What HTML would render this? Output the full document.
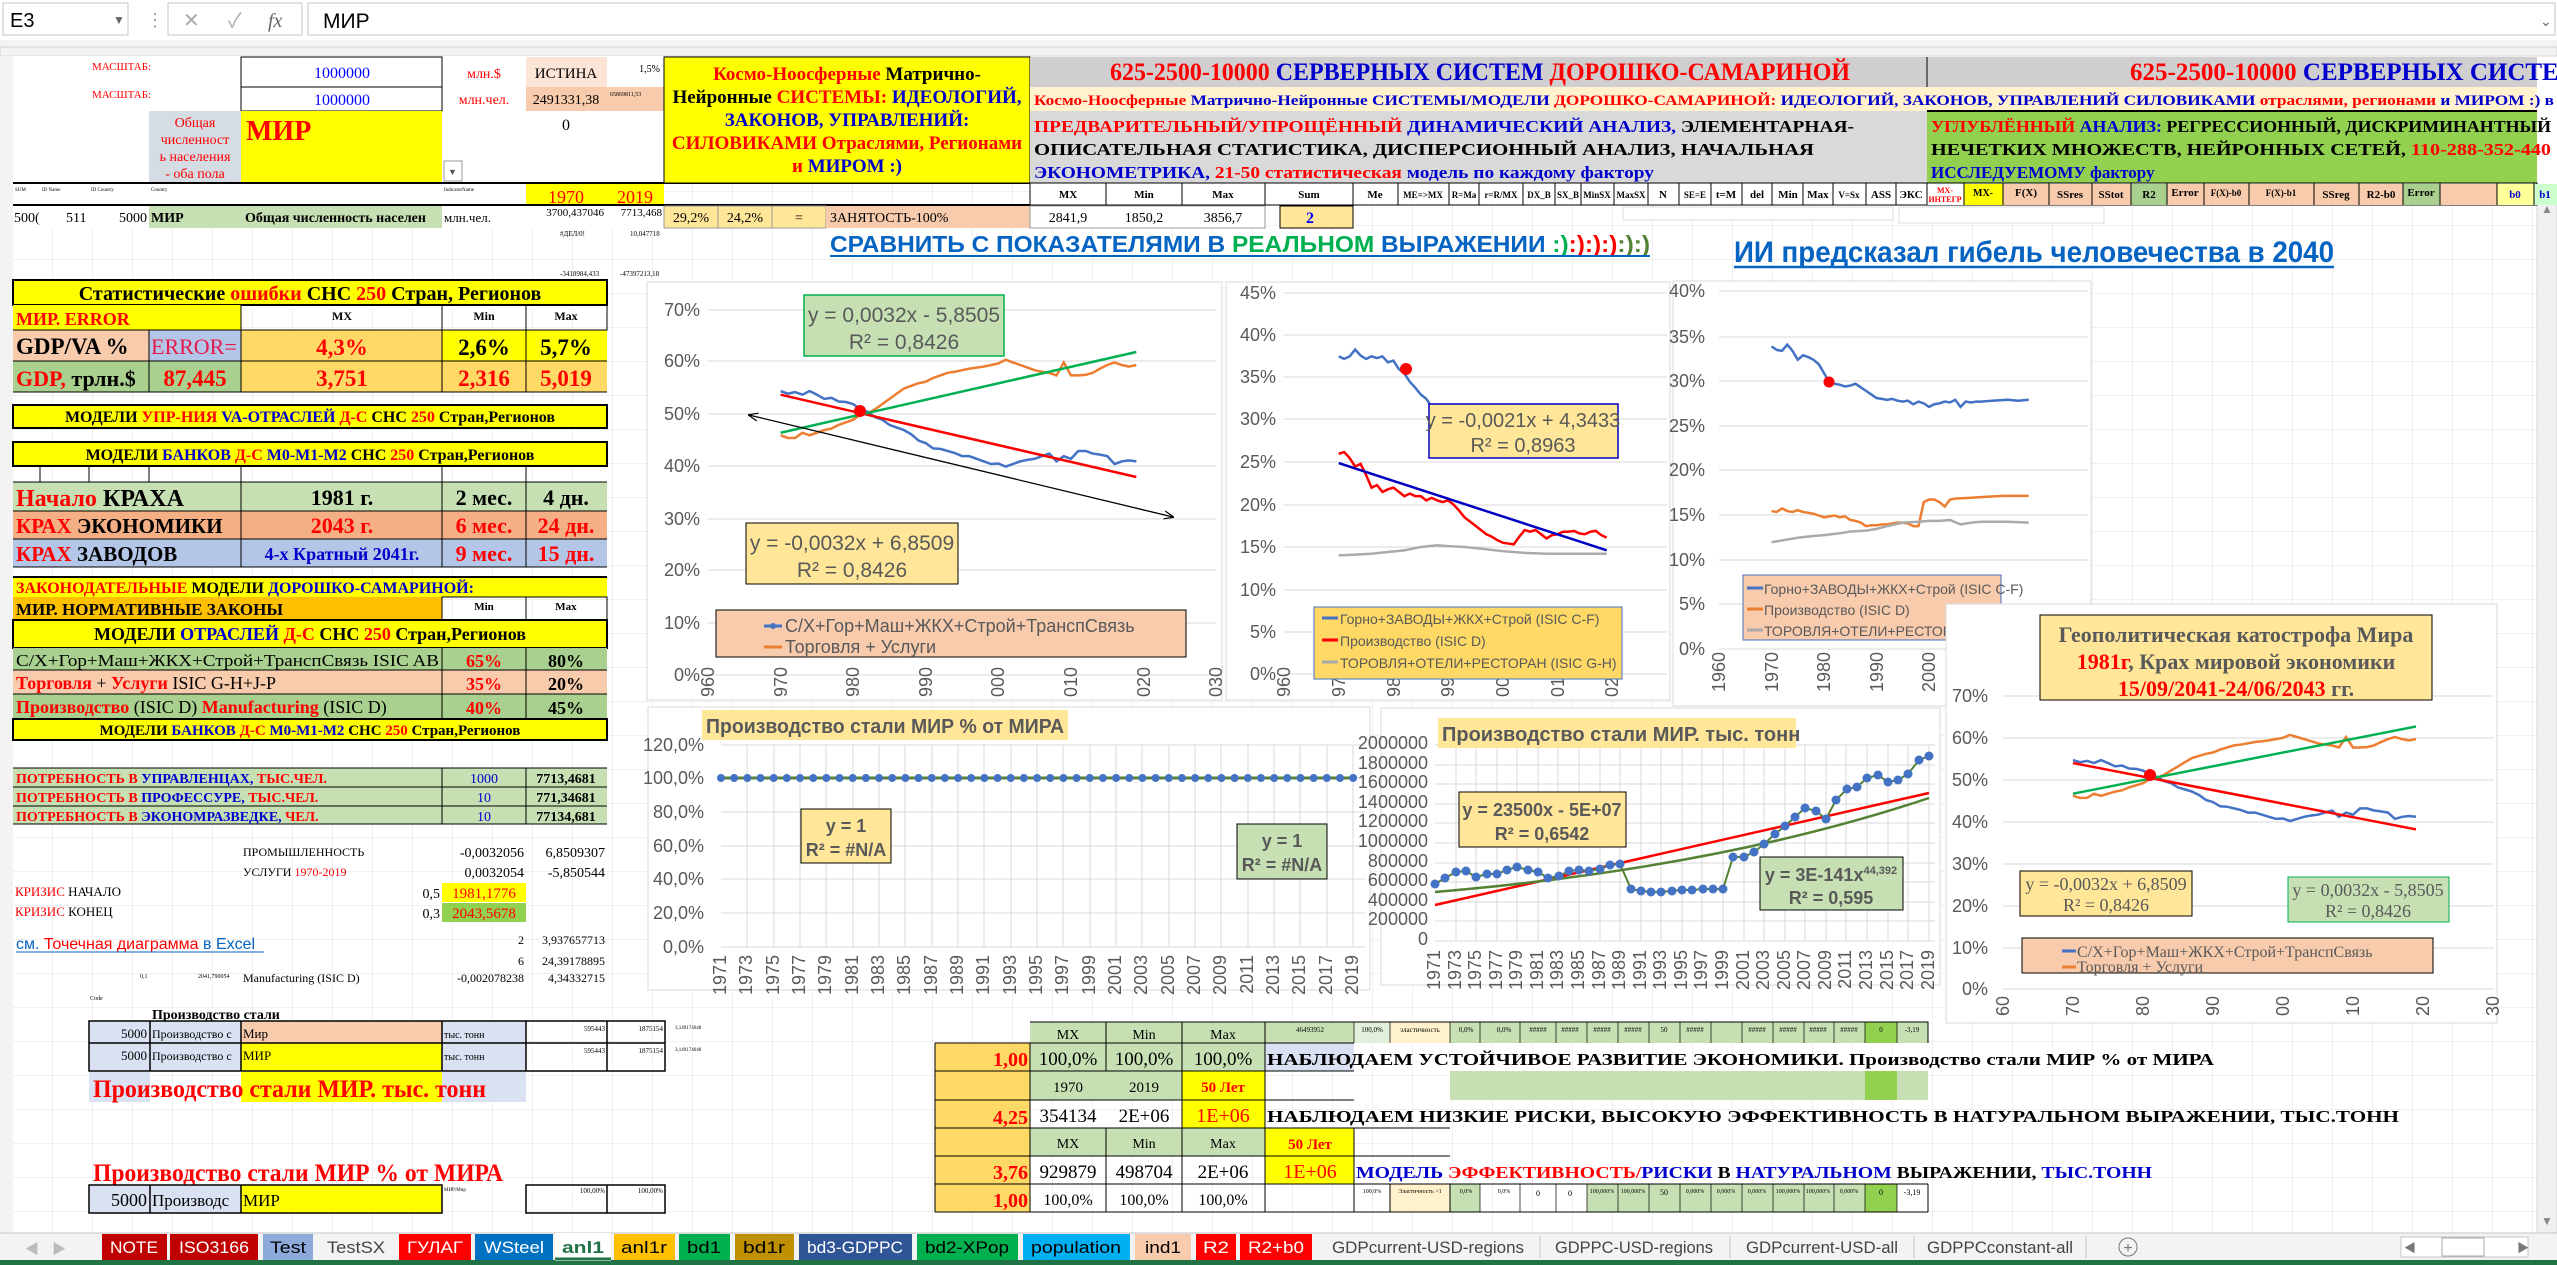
<!DOCTYPE html>
<html><head><meta charset="utf-8"><style>
html,body{margin:0;padding:0;background:#fff;width:2557px;height:1265px;overflow:hidden}
svg{display:block}
.s{font-family:"Liberation Serif","Noto Serif CJK SC",serif}
.a{font-family:"Liberation Sans","Noto Sans CJK SC",sans-serif}
.b{font-weight:bold}
.gl{stroke:#d9d9d9;stroke-width:1}
.ax{font-family:"Liberation Sans",sans-serif;fill:#595959;font-size:18px}
.bd{stroke:#000;stroke-width:1;fill:none}
</style></head><body>
<svg width="2557" height="1265" viewBox="0 0 2557 1265" xmlns="http://www.w3.org/2000/svg">
<defs>
<pattern id="grid" x="13" y="56" width="40" height="34" patternUnits="userSpaceOnUse"><path d="M40 0V34M0 34H40" stroke="#e2e2e2" stroke-width="1" fill="none"/></pattern>
<marker id="dot" viewBox="0 0 10 10" refX="5" refY="5" markerWidth="10" markerHeight="10" markerUnits="userSpaceOnUse"><circle cx="5" cy="5" r="4.5" fill="#4472c4"/></marker>
<marker id="arr" viewBox="0 0 10 10" refX="9" refY="5" markerWidth="10" markerHeight="10" orient="auto-start-reverse" markerUnits="userSpaceOnUse"><path d="M0,1L10,5L0,9" fill="none" stroke="#000" stroke-width="1.2"/></marker>
</defs>
<rect width="2557" height="1265" fill="#fff"/>
<rect x="13" y="56" width="2524" height="1177" fill="url(#grid)"/>

<!-- formula bar -->
<rect x="0" y="0" width="2557" height="40" fill="#fff"/>
<rect x="3" y="3" width="125" height="32" fill="#fff" stroke="#c6c6c6"/>
<text x="10" y="27" class="a" font-size="20">E3</text><text x="113" y="24" class="a" font-size="12" fill="#666">▼</text>
<text x="146" y="26" class="a" font-size="18" fill="#999">⋮</text>
<rect x="168" y="3" width="134" height="32" fill="#fff" stroke="#c6c6c6"/>
<text x="183" y="27" class="a" font-size="20" fill="#aaa">✕</text><text x="228" y="27" class="a" font-size="20" fill="#aaa">✓</text><text x="268" y="27" class="s" font-size="20" font-style="italic" fill="#666">fx</text>
<rect x="308" y="3" width="2247" height="32" fill="#fff" stroke="#c6c6c6"/>
<text x="323" y="28" class="a" font-size="21">МИР</text>
<text x="2540" y="26" class="a" font-size="14" fill="#666">⌄</text>
<rect x="0" y="40" width="2557" height="8" fill="#f3f3f3"/>
<rect x="0" y="47" width="2557" height="9" fill="#f3f3f3" stroke="#d4d4d4"/>
<rect x="0" y="56" width="13" height="1177" fill="#f3f3f3"/>
<rect x="2537" y="195" width="20" height="1038" fill="#f0f0f0" stroke="#d4d4d4"/>
<text x="2541" y="213" class="a" font-size="12" fill="#888">▲</text><text x="2541" y="1225" class="a" font-size="12" fill="#888">▼</text>

<!-- top block -->
<g class="s">
<rect x="13" y="56" width="651" height="172" fill="#fff"/>
<text x="92" y="70" font-size="11" fill="#f00">МАСШТАБ:</text>
<text x="92" y="98" font-size="11" fill="#f00">МАСШТАБ:</text>
<rect x="241" y="57" width="201" height="30" fill="#fff2cc" class="bd"/><text x="342" y="78" font-size="16" fill="#00f" text-anchor="middle">1000000</text>
<rect x="241" y="87" width="201" height="24" fill="#fff2cc" class="bd"/><text x="342" y="105" font-size="16" fill="#00f" text-anchor="middle">1000000</text>
<text x="484" y="78" font-size="14" fill="#f00" text-anchor="middle">млн.$</text>
<text x="484" y="104" font-size="14" fill="#f00" text-anchor="middle">млн.чел.</text>
<rect x="526" y="57" width="81" height="30" fill="#fce4d6"/><text x="566" y="78" font-size="15" text-anchor="middle">ИСТИНА</text>
<rect x="526" y="87" width="81" height="24" fill="#f8cbad"/><text x="566" y="104" font-size="14" text-anchor="middle">2491331,38</text>
<rect x="607" y="87" width="57" height="24" fill="#f8cbad"/><text x="660" y="72" font-size="10" text-anchor="end">1,5%</text>
<text x="610" y="96" font-size="6">65869811,53</text>
<rect x="149" y="111" width="92" height="72" fill="#d6dce4"/>
<text x="195" y="127" font-size="14" fill="#f00" text-anchor="middle">Общая</text>
<text x="195" y="144" font-size="14" fill="#f00" text-anchor="middle">численност</text>
<text x="195" y="161" font-size="14" fill="#f00" text-anchor="middle">ь населения</text>
<text x="195" y="178" font-size="14" fill="#f00" text-anchor="middle">- оба пола</text>
<rect x="241" y="111" width="201" height="72" fill="#ffff00"/>
<text x="246" y="140" font-size="28" fill="#f00" class="b">МИР</text>
<rect x="444" y="161" width="18" height="20" fill="#fff" stroke="#999"/><text x="448" y="175" font-size="9" fill="#555">▼</text>
<text x="566" y="130" font-size="16" text-anchor="middle">0</text>
<line x1="13" y1="183" x2="1030" y2="183" stroke="#000" stroke-width="2"/>
<text x="15" y="191" font-size="5">SUM</text><text x="42" y="191" font-size="5">ID Name</text><text x="91" y="191" font-size="5">ID Country</text><text x="151" y="191" font-size="5">Country</text><text x="444" y="191" font-size="5">IndicatorName</text>
<rect x="526" y="184" width="81" height="21" fill="#ffff00"/><text x="566" y="203" font-size="18" fill="#f00" text-anchor="middle">1970</text>
<rect x="607" y="184" width="57" height="21" fill="#ffff00"/><text x="635" y="203" font-size="18" fill="#f00" text-anchor="middle">2019</text>
<line x1="13" y1="205" x2="1030" y2="205" stroke="#000" stroke-width="2"/>
<text x="14" y="222" font-size="14">500(</text><text x="66" y="222" font-size="14">511</text><text x="147" y="222" font-size="14" text-anchor="end">5000</text>
<rect x="149" y="206" width="293" height="22" fill="#c6e0b4"/>
<text x="151" y="222" font-size="14" class="b">МИР</text><text x="245" y="222" font-size="14" class="b">Общая численность населен</text>
<text x="444" y="222" font-size="13">млн.чел.</text>
<text x="604" y="216" font-size="11" text-anchor="end">3700,437046</text><text x="662" y="216" font-size="11" text-anchor="end">7713,468</text>
<text x="560" y="236" font-size="7">#ДЕЛ/0!</text><text x="630" y="236" font-size="7">10,047718</text>
<text x="560" y="276" font-size="7">-3418984,433</text><text x="620" y="276" font-size="7">-47397213,18</text>
</g>
<!-- yellow cosmo box -->
<g class="s b" font-size="19" text-anchor="middle">
<rect x="664" y="57" width="366" height="126" fill="#ffff00" stroke="#000"/>
<text x="847" y="80"><tspan fill="#f00">Космо-Ноосферные</tspan> Матрично-</text>
<text x="847" y="103">Нейронные <tspan fill="#f00">СИСТЕМЫ:</tspan> <tspan fill="#00c">ИДЕОЛОГИЙ,</tspan></text>
<text x="847" y="126" fill="#00c">ЗАКОНОВ, УПРАВЛЕНИЙ:</text>
<text x="847" y="149" fill="#f00">СИЛОВИКАМИ Отраслями, Регионами</text>
<text x="847" y="172" fill="#f00">и <tspan fill="#00c">МИРОМ :)</tspan></text>
</g>
<!-- row 28 right cells -->
<g class="s" font-size="14" text-anchor="middle">
<rect x="664" y="206" width="54" height="22" fill="#ffe699" stroke="#999"/><text x="691" y="222">29,2%</text>
<rect x="718" y="206" width="54" height="22" fill="#ffe699" stroke="#999"/><text x="745" y="222">24,2%</text>
<rect x="772" y="206" width="54" height="22" fill="#ffe699" stroke="#999"/><text x="799" y="222">=</text>
<rect x="826" y="206" width="204" height="22" fill="#f8cbad"/><text x="830" y="222" text-anchor="start">ЗАНЯТОСТЬ-100%</text>
<rect x="1030" y="206" width="235" height="22" fill="#fff" stroke="#999"/>
<text x="1068" y="222">2841,9</text><text x="1144" y="222">1850,2</text><text x="1223" y="222">3856,7</text>
<rect x="1280" y="206" width="73" height="22" fill="#ffe699" stroke="#000"/><text x="1310" y="223" fill="#00f" class="b" font-size="16">2</text>
</g>
<!-- big header rows -->
<g class="s b">
<rect x="1030" y="57" width="1507" height="30" fill="#d0cece"/>
<line x1="1927" y1="57" x2="1927" y2="87" stroke="#000"/>
<text x="1110" y="80" font-size="25" textLength="740" lengthAdjust="spacingAndGlyphs"><tspan fill="#f00">625-2500-10000</tspan> <tspan fill="#00c">СЕРВЕРНЫХ СИСТЕМ</tspan> <tspan fill="#f00">ДОРОШКО-САМАРИНОЙ</tspan></text>
<text x="2130" y="80" font-size="25"><tspan fill="#f00">625-2500-10000</tspan> <tspan fill="#00c">СЕРВЕРНЫХ СИСТЕ</tspan></text>
<rect x="1030" y="87" width="1507" height="24" fill="#fff2cc"/>
<text x="1034" y="105" font-size="15" textLength="1520" lengthAdjust="spacingAndGlyphs"><tspan fill="#f00">Космо-Ноосферные</tspan> <tspan fill="#00c">Матрично-Нейронные СИСТЕМЫ/МОДЕЛИ</tspan> <tspan fill="#f00">ДОРОШКО-САМАРИНОЙ:</tspan> <tspan fill="#00c">ИДЕОЛОГИЙ, ЗАКОНОВ, УПРАВЛЕНИЙ СИЛОВИКАМИ</tspan> <tspan fill="#f00">отраслями, регионами</tspan> <tspan fill="#00c">и МИРОМ :) в</tspan></text>
<rect x="1030" y="111" width="897" height="72" fill="#d9d9d9"/>
<text x="1034" y="132" font-size="17" textLength="820" lengthAdjust="spacingAndGlyphs"><tspan fill="#f00">ПРЕДВАРИТЕЛЬНЫЙ/УПРОЩЁННЫЙ</tspan> <tspan fill="#00c">ДИНАМИЧЕСКИЙ АНАЛИЗ,</tspan> ЭЛЕМЕНТАРНАЯ-</text>
<text x="1034" y="155" font-size="17" textLength="780" lengthAdjust="spacingAndGlyphs">ОПИСАТЕЛЬНАЯ СТАТИСТИКА, ДИСПЕРСИОННЫЙ АНАЛИЗ, НАЧАЛЬНАЯ</text>
<text x="1034" y="178" font-size="17" textLength="620" lengthAdjust="spacingAndGlyphs"><tspan fill="#00c">ЭКОНОМЕТРИКА,</tspan> <tspan fill="#f00">21-50 статистическая</tspan> <tspan fill="#00c">модель по каждому фактору</tspan></text>
<rect x="1927" y="111" width="610" height="72" fill="#92d050"/>
<line x1="1927" y1="111" x2="2537" y2="111" stroke="#000" stroke-width="2"/>
<text x="1931" y="132" font-size="17" textLength="620" lengthAdjust="spacingAndGlyphs"><tspan fill="#f00">УГЛУБЛЁННЫЙ</tspan> <tspan fill="#00c">АНАЛИЗ:</tspan> РЕГРЕССИОННЫЙ, ДИСКРИМИНАНТНЫЙ</text>
<text x="1931" y="155" font-size="17" textLength="620" lengthAdjust="spacingAndGlyphs">НЕЧЕТКИХ МНОЖЕСТВ, НЕЙРОННЫХ СЕТЕЙ, <tspan fill="#f00">110-288-352-440</tspan></text>
<text x="1931" y="178" font-size="17" fill="#00c">ИССЛЕДУЕМОМУ фактору</text>
</g>
<!-- row4 header cells -->
<g class="s b" font-size="11" text-anchor="middle">
<rect x="1030" y="183" width="1507" height="22" fill="#fff" stroke="#000"/>
<rect x="1927" y="184" width="37" height="21" fill="#fff"/>
<rect x="1964" y="184" width="39" height="21" fill="#ffff00"/>
<rect x="2003" y="184" width="89" height="21" fill="#f8cbad"/>
<rect x="2092" y="184" width="39" height="21" fill="#f8cbad"/>
<rect x="2131" y="184" width="36" height="21" fill="#a9d08e"/>
<rect x="2167" y="184" width="192" height="21" fill="#f8cbad"/>
<rect x="2359" y="184" width="44" height="21" fill="#f8cbad"/>
<rect x="2403" y="184" width="37" height="21" fill="#a9d08e"/>
<rect x="2440" y="184" width="57" height="21" fill="#f8cbad"/>
<rect x="2497" y="184" width="37" height="21" fill="#ffff99"/>
<rect x="2534" y="184" width="23" height="21" fill="#ccffcc"/>
<g stroke="#000" stroke-width="1">
<path d="M1106 183V205M1182 183V205M1265 183V205M1353 183V205M1398 183V205M1449 183V205M1479 183V205M1523 183V205M1555 183V205M1581 183V205M1614 183V205M1648 183V205M1679 183V205M1711 183V205M1742 183V205M1772 183V205M1803 183V205M1833 183V205M1866 183V205M1896 183V205M1927 183V205M1964 183V205M2003 183V205M2049 183V205M2092 183V205M2131 183V205M2167 183V205M2204 183V205M2249 183V205M2314 183V205M2359 183V205M2403 183V205M2440 183V205M2497 183V205M2534 183V205"/>
</g>
<text x="1068" y="198">MX</text><text x="1144" y="198">Min</text><text x="1223" y="198">Max</text><text x="1309" y="198">Sum</text><text x="1375" y="198">Me</text><text x="1423" y="198" font-size="9">ME=&gt;MX</text><text x="1464" y="198" font-size="9">R=Ma</text><text x="1501" y="198" font-size="9">r=R/MX</text><text x="1539" y="198" font-size="9">DX_B</text><text x="1568" y="198" font-size="9">SX_B</text><text x="1597" y="198" font-size="9">MinSX</text><text x="1631" y="198" font-size="9">MaxSX</text><text x="1663" y="198">N</text><text x="1695" y="198" font-size="9">SE=E</text><text x="1726" y="198">t=M</text><text x="1757" y="198">del</text><text x="1788" y="198">Min</text><text x="1818" y="198">Max</text><text x="1849" y="198" font-size="9">V=Sx</text><text x="1881" y="198">ASS</text><text x="1911" y="198">ЭКС</text>
<text x="1945" y="193" font-size="8" fill="#f00">MX-</text><text x="1945" y="202" font-size="8" fill="#f00">ИНТЕГР</text>
<text x="1983" y="196" font-size="10">MX-</text><text x="2026" y="196">F(X)</text><text x="2070" y="198">SSres</text><text x="2111" y="198">SStot</text><text x="2149" y="198">R2</text><text x="2185" y="196">Error</text><text x="2226" y="196" font-size="9">F(X)-b0</text><text x="2281" y="196" font-size="9">F(X)-b1</text><text x="2336" y="198">SSreg</text><text x="2381" y="198">R2-b0</text><text x="2421" y="196">Error</text><text x="2515" y="198" fill="#00c">b0</text><text x="2545" y="198" fill="#00c">b1</text>
</g>
<rect x="1623" y="207" width="270" height="13" fill="#fff" stroke="#ddd"/>
<rect x="1899" y="207" width="205" height="16" fill="#fff" stroke="#ddd"/>

<!-- link titles -->
<g class="a b">
<text x="830" y="252" font-size="23" textLength="820" lengthAdjust="spacingAndGlyphs"><tspan fill="#0563c1">СРАВНИТЬ С ПОКАЗАТЕЛЯМИ В </tspan><tspan fill="#00b050">РЕАЛЬНОМ</tspan><tspan fill="#0563c1"> ВЫРАЖЕНИИ </tspan><tspan fill="#00b050">:)</tspan><tspan fill="#f00">:):):)</tspan><tspan fill="#548235">:):)</tspan></text>
<line x1="830" y1="256" x2="1650" y2="256" stroke="#0563c1" stroke-width="2"/>
<text x="1734" y="262" font-size="30" fill="#0563c1" textLength="600" lengthAdjust="spacingAndGlyphs">ИИ предсказал гибель человечества в 2040</text>
<line x1="1734" y1="267" x2="2334" y2="267" stroke="#0563c1" stroke-width="2.5"/>
</g>

<!-- LEFT TABLES -->
<g class="s">
<rect x="13" y="280" width="594" height="25" fill="#ffff00" stroke="#000" stroke-width="2"/>
<text x="310" y="300" font-size="20" class="b" text-anchor="middle">Статистические <tspan fill="#f00">ошибки</tspan> СНС <tspan fill="#f00">250</tspan> Стран, Регионов</text>
<rect x="13" y="305" width="228" height="25" fill="#ffff00"/>
<text x="16" y="325" font-size="18" fill="#f00" class="b">МИР. ERROR</text>
<rect x="241" y="305" width="366" height="25" fill="#fff" class="bd"/>
<text x="342" y="320" font-size="12" class="b" text-anchor="middle">MX</text><text x="484" y="320" font-size="12" class="b" text-anchor="middle">Min</text><text x="566" y="320" font-size="12" class="b" text-anchor="middle">Max</text>
<rect x="13" y="330" width="136" height="31" fill="#f8cbad"/><text x="16" y="354" font-size="23" class="b">GDP/VA %</text>
<rect x="149" y="330" width="92" height="31" fill="#b4c6e7"/><text x="151" y="354" font-size="22" fill="#e6194b">ERROR=</text>
<rect x="241" y="330" width="201" height="31" fill="#ffd966"/><text x="342" y="355" font-size="23" fill="#f00" class="b" text-anchor="middle">4,3%</text>
<rect x="442" y="330" width="165" height="31" fill="#ffff00"/><text x="484" y="355" font-size="23" class="b" text-anchor="middle">2,6%</text><text x="566" y="355" font-size="23" class="b" text-anchor="middle">5,7%</text>
<rect x="13" y="361" width="228" height="31" fill="#a9d08e"/><text x="16" y="386" font-size="22" class="b"><tspan fill="#f00">GDP,</tspan> трлн.$</text>
<text x="195" y="386" font-size="23" class="b" fill="#f00" text-anchor="middle">87,445</text>
<rect x="241" y="361" width="366" height="31" fill="#ffd966"/>
<text x="342" y="386" font-size="23" class="b" fill="#f00" text-anchor="middle">3,751</text><text x="484" y="386" font-size="23" class="b" fill="#f00" text-anchor="middle">2,316</text><text x="566" y="386" font-size="23" class="b" fill="#f00" text-anchor="middle">5,019</text>
<path d="M13 330H607M13 361H607M13 392H607M241 305V392M442 305V392M526 305V392M149 330V392" stroke="#000" fill="none"/>
<rect x="13" y="405" width="594" height="23" fill="#ffff00" stroke="#000" stroke-width="2"/>
<text x="310" y="422" font-size="16" class="b" text-anchor="middle">МОДЕЛИ <tspan fill="#f00">УПР-НИЯ</tspan> <tspan fill="#00c">VA-ОТРАСЛЕЙ</tspan> <tspan fill="#f00">Д-С</tspan> СНС <tspan fill="#f00">250</tspan> Стран,Регионов</text>
<rect x="13" y="442" width="594" height="24" fill="#ffff00" stroke="#000" stroke-width="2"/>
<text x="310" y="460" font-size="16" class="b" text-anchor="middle">МОДЕЛИ <tspan fill="#00c">БАНКОВ</tspan> <tspan fill="#f00">Д-С</tspan> <tspan fill="#00c">M0-M1-M2</tspan> СНС <tspan fill="#f00">250</tspan> Стран,Регионов</text>
<rect x="13" y="482" width="594" height="29" fill="#c6e0b4"/>
<text x="16" y="506" font-size="24" class="b"><tspan fill="#f00">Начало</tspan> КРАХА</text>
<text x="342" y="505" font-size="22" class="b" text-anchor="middle">1981 г.</text><text x="484" y="505" font-size="22" class="b" text-anchor="middle">2 мес.</text><text x="566" y="505" font-size="22" class="b" text-anchor="middle">4 дн.</text>
<rect x="13" y="511" width="594" height="28" fill="#f4b084"/>
<text x="16" y="533" font-size="21" class="b"><tspan fill="#f00">КРАХ</tspan> ЭКОНОМИКИ</text>
<text x="342" y="533" font-size="22" class="b" fill="#f00" text-anchor="middle">2043 г.</text><text x="484" y="533" font-size="22" class="b" fill="#f00" text-anchor="middle">6 мес.</text><text x="566" y="533" font-size="22" class="b" fill="#f00" text-anchor="middle">24 дн.</text>
<rect x="13" y="539" width="594" height="28" fill="#b4c6e7"/>
<text x="16" y="561" font-size="21" class="b"><tspan fill="#f00">КРАХ</tspan> ЗАВОДОВ</text>
<text x="342" y="560" font-size="18" class="b" fill="#00c" text-anchor="middle">4-х Кратный 2041г.</text><text x="484" y="561" font-size="22" class="b" fill="#f00" text-anchor="middle">9 мес.</text><text x="566" y="561" font-size="22" class="b" fill="#f00" text-anchor="middle">15 дн.</text>
<path d="M13 466H607M13 482H607M13 511H607M13 539H607M13 567H607M241 466V567M442 466V567M526 466V567M40 466V482M89 466V482M149 466V482" stroke="#000" fill="none"/>
<rect x="13" y="577" width="594" height="20" fill="#ffff00"/>
<line x1="13" y1="577" x2="607" y2="577" stroke="#000" stroke-width="2"/>
<text x="16" y="593" font-size="16" class="b"><tspan fill="#f00">ЗАКОНОДАТЕЛЬНЫЕ</tspan> МОДЕЛИ <tspan fill="#00c">ДОРОШКО-САМАРИНОЙ:</tspan></text>
<rect x="13" y="597" width="429" height="23" fill="#ffc000"/>
<text x="16" y="615" font-size="17" class="b">МИР. НОРМАТИВНЫЕ ЗАКОНЫ</text>
<rect x="442" y="597" width="165" height="23" fill="#fff" class="bd"/><line x1="526" y1="597" x2="526" y2="620" stroke="#000"/>
<text x="484" y="610" font-size="11" class="b" text-anchor="middle">Min</text><text x="566" y="610" font-size="11" class="b" text-anchor="middle">Max</text>
<rect x="13" y="620" width="594" height="28" fill="#ffff00" stroke="#000" stroke-width="2"/>
<text x="310" y="640" font-size="18" class="b" text-anchor="middle">МОДЕЛИ <tspan fill="#00c">ОТРАСЛЕЙ</tspan> <tspan fill="#f00">Д-С</tspan> СНС <tspan fill="#f00">250</tspan> Стран,Регионов</text>
<rect x="13" y="648" width="594" height="22" fill="#a9d08e"/>
<text x="16" y="666" font-size="17" textLength="423" lengthAdjust="spacingAndGlyphs">С/Х+Гор+Маш+ЖКХ+Строй+ТранспСвязь ISIC AB</text>
<text x="484" y="667" font-size="18" class="b" fill="#f00" text-anchor="middle">65%</text><text x="566" y="667" font-size="18" class="b" text-anchor="middle">80%</text>
<rect x="13" y="670" width="594" height="24" fill="#f8cbad"/>
<text x="16" y="689" font-size="18"><tspan fill="#f00" class="b">Торговля</tspan> + <tspan fill="#f00" class="b">Услуги</tspan> ISIC G-H+J-P</text>
<text x="484" y="690" font-size="18" class="b" fill="#f00" text-anchor="middle">35%</text><text x="566" y="690" font-size="18" class="b" text-anchor="middle">20%</text>
<rect x="13" y="694" width="594" height="25" fill="#a9d08e"/>
<text x="16" y="713" font-size="18"><tspan fill="#f00" class="b">Производство</tspan> (ISIC D) <tspan fill="#f00" class="b">Manufacturing</tspan> (ISIC D)</text>
<text x="484" y="714" font-size="18" class="b" fill="#f00" text-anchor="middle">40%</text><text x="566" y="714" font-size="18" class="b" text-anchor="middle">45%</text>
<path d="M13 670H607M13 694H607M13 719H607M442 648V719M526 648V719" stroke="#000" fill="none"/>
<rect x="13" y="719" width="594" height="21" fill="#ffff00" stroke="#000" stroke-width="2"/>
<text x="310" y="735" font-size="15" class="b" text-anchor="middle">МОДЕЛИ <tspan fill="#00c">БАНКОВ</tspan> <tspan fill="#f00">Д-С</tspan> <tspan fill="#00c">M0-M1-M2</tspan> СНС <tspan fill="#f00">250</tspan> Стран,Регионов</text>
<rect x="13" y="768" width="594" height="56" fill="#c6e0b4"/>
<path d="M13 768H607M13 787H607M13 806H607M13 824H607M442 768V824M526 768V824" stroke="#000" fill="none"/>
<text x="16" y="783" font-size="14" class="b" fill="#f00">ПОТРЕБНОСТЬ В <tspan fill="#00c">УПРАВЛЕНЦАХ,</tspan> ТЫС.ЧЕЛ.</text>
<text x="16" y="802" font-size="14" class="b" fill="#f00">ПОТРЕБНОСТЬ В <tspan fill="#00c">ПРОФЕССУРЕ,</tspan> ТЫС.ЧЕЛ.</text>
<text x="16" y="821" font-size="14" class="b" fill="#f00">ПОТРЕБНОСТЬ В <tspan fill="#00c">ЭКОНОМРАЗВЕДКЕ,</tspan> ЧЕЛ.</text>
<text x="484" y="783" font-size="14" fill="#00c" text-anchor="middle">1000</text><text x="484" y="802" font-size="14" fill="#00c" text-anchor="middle">10</text><text x="484" y="821" font-size="14" fill="#00c" text-anchor="middle">10</text>
<text x="566" y="783" font-size="14" class="b" text-anchor="middle">7713,4681</text><text x="566" y="802" font-size="14" class="b" text-anchor="middle">771,34681</text><text x="566" y="821" font-size="14" class="b" text-anchor="middle">77134,681</text>
<text x="243" y="856" font-size="12">ПРОМЫШЛЕННОСТЬ</text>
<text x="243" y="876" font-size="12">УСЛУГИ <tspan fill="#f00">1970-2019</tspan></text>
<text x="524" y="857" font-size="14" text-anchor="end">-0,0032056</text><text x="605" y="857" font-size="14" text-anchor="end">6,8509307</text>
<text x="524" y="877" font-size="14" text-anchor="end">0,0032054</text><text x="605" y="877" font-size="14" text-anchor="end">-5,850544</text>
<text x="15" y="896" font-size="13"><tspan fill="#f00">КРИЗИС</tspan> НАЧАЛО</text>
<text x="15" y="916" font-size="13"><tspan fill="#f00">КРИЗИС</tspan> КОНЕЦ</text>
<text x="440" y="898" font-size="14" text-anchor="end">0,5</text><text x="440" y="918" font-size="14" text-anchor="end">0,3</text>
<rect x="442" y="883" width="84" height="19" fill="#ffff00"/><text x="484" y="898" font-size="15" fill="#f00" text-anchor="middle">1981,1776</text>
<rect x="442" y="903" width="84" height="19" fill="#92d050"/><text x="484" y="918" font-size="15" fill="#f00" text-anchor="middle">2043,5678</text>
<text x="16" y="949" class="a" font-size="16"><tspan fill="#0563c1">см. </tspan><tspan fill="#f00">Точечная диаграмма</tspan><tspan fill="#0563c1"> в Excel</tspan></text>
<line x1="16" y1="952" x2="264" y2="952" stroke="#0563c1"/>
<text x="524" y="944" font-size="12" text-anchor="end">2</text><text x="605" y="944" font-size="12" text-anchor="end">3,937657713</text>
<text x="524" y="965" font-size="12" text-anchor="end">6</text><text x="605" y="965" font-size="12" text-anchor="end">24,39178895</text>
<text x="140" y="978" font-size="6">0,1</text><text x="198" y="978" font-size="6">2041,790054</text>
<text x="243" y="982" font-size="12">Manufacturing (ISIC D)</text>
<text x="524" y="982" font-size="12" text-anchor="end">-0,002078238</text><text x="605" y="982" font-size="12" text-anchor="end">4,34332715</text>
<text x="90" y="1000" font-size="6">Code</text>
<text x="152" y="1019" font-size="14" class="b">Производство стали</text>
<rect x="89" y="1021" width="152" height="50" fill="#d9e1f2"/>
<rect x="241" y="1021" width="201" height="22" fill="#f8cbad"/>
<rect x="241" y="1043" width="201" height="28" fill="#ffff00"/>
<rect x="442" y="1021" width="84" height="50" fill="#d9e1f2"/>
<path d="M89 1021H665V1071H89ZM89 1043H665M150 1021V1071M241 1021V1071M442 1021V1071M526 1021V1071M607 1021V1071" stroke="#000" stroke-width="1.5" fill="none"/>
<text x="147" y="1038" font-size="13" text-anchor="end">5000</text><text x="152" y="1038" font-size="12">Производство с</text><text x="243" y="1038" font-size="13">Мир</text><text x="444" y="1038" font-size="10">тыс. тонн</text>
<text x="147" y="1060" font-size="13" text-anchor="end">5000</text><text x="152" y="1060" font-size="12">Производство с</text><text x="243" y="1060" font-size="13">МИР</text><text x="444" y="1060" font-size="10">тыс. тонн</text>
<text x="605" y="1031" font-size="7" text-anchor="end">595443</text><text x="663" y="1031" font-size="7" text-anchor="end">1875154</text><text x="675" y="1029" font-size="5">3,149174648</text>
<text x="605" y="1053" font-size="7" text-anchor="end">595443</text><text x="663" y="1053" font-size="7" text-anchor="end">1875154</text><text x="675" y="1051" font-size="5">3,149174648</text>
<rect x="89" y="1072" width="61" height="30" fill="#d9e1f2"/><rect x="241" y="1072" width="201" height="30" fill="#ffff00"/><rect x="442" y="1072" width="84" height="30" fill="#d9e1f2"/>
<text x="93" y="1097" font-size="25" class="b" fill="#f00" textLength="393" lengthAdjust="spacingAndGlyphs">Производство стали  МИР. тыс. тонн</text>
<text x="93" y="1181" font-size="25" class="b" fill="#f00" textLength="410" lengthAdjust="spacingAndGlyphs">Производство стали МИР % от МИРА</text>
<rect x="89" y="1185" width="152" height="28" fill="#d9e1f2"/><rect x="241" y="1185" width="201" height="28" fill="#ffff00"/>
<path d="M89 1185H442V1213H89ZM150 1185V1213M241 1185V1213M526 1185H665V1213H526ZM607 1185V1213" stroke="#000" stroke-width="1.5" fill="none"/>
<text x="147" y="1206" font-size="18" text-anchor="end">5000</text><text x="152" y="1206" font-size="17">Производс</text><text x="243" y="1206" font-size="17">МИР</text>
<text x="444" y="1191" font-size="5">МИР/Мир</text><text x="605" y="1193" font-size="7" text-anchor="end">100,00%</text><text x="663" y="1193" font-size="7" text-anchor="end">100,00%</text>
</g>

<!-- CHART 1 -->
<g>
<rect x="647" y="282" width="575" height="418" fill="#fff" stroke="#d9d9d9"/>
<path d="M708 310H1216M708 361H1216M708 414H1216M708 466H1216M708 519H1216M708 570H1216M708 623H1216M708 675H1216" class="gl"/>
<g class="ax" text-anchor="end"><text x="700" y="316">70%</text><text x="700" y="367">60%</text><text x="700" y="420">50%</text><text x="700" y="472">40%</text><text x="700" y="525">30%</text><text x="700" y="576">20%</text><text x="700" y="629">10%</text><text x="700" y="681">0%</text></g>
<g class="ax" font-size="16"><text transform="translate(714,697) rotate(-90)">960</text><text transform="translate(787,697) rotate(-90)">970</text><text transform="translate(859,697) rotate(-90)">980</text><text transform="translate(932,697) rotate(-90)">990</text><text transform="translate(1004,697) rotate(-90)">000</text><text transform="translate(1077,697) rotate(-90)">010</text><text transform="translate(1150,697) rotate(-90)">020</text><text transform="translate(1222,697) rotate(-90)">030</text></g>
<g transform="translate(708,675) scale(7.26,-5.21)" fill="none" stroke-width="2.5">
<polyline vector-effect="non-scaling-stroke" stroke="#4472c4" points="10,54.5 11,54 12,54.3 13,53.8 14,54.5 15,53.8 16,53 17,53.2 18,52.5 19,52.4 20,52 21,51 22,50.5 23,49.5 24,49 25,48 26,47.5 27,47 28,46.2 29,45 30,44.5 31,43.5 32,43.4 33,43 34,42.6 35,42 36,42 37,41.5 38,41 39,40.5 40,40.6 41,40 42,40.5 43,41 44,41.3 45,41.5 46,42 47,42.5 48,41 49,42 50,41.5 51,43 52,43 53,42.5 54,42.3 55,42 56,40.5 57,41 58,41.2 59,41"/>
<polyline vector-effect="non-scaling-stroke" stroke="#ed7d31" points="10,46 11,45.5 12,45.5 13,46.5 14,46 15,46.5 16,47 17,47.3 18,48 19,48.5 20,49 21,50 22,50.2 23,51 24,52 25,53 26,54 27,55 28,55.5 29,56 30,56.3 31,57 32,57.5 33,58 34,58.2 35,58.5 36,58.8 37,59 38,59.2 39,59.5 40,59.8 41,60.5 42,60 43,59.5 44,59 45,58.5 46,58.2 47,58 48,57.5 49,60 50,57.5 51,57.5 52,57.6 53,58 54,58.8 55,59.5 56,60 57,59.5 58,59.2 59,59.5"/>
<line vector-effect="non-scaling-stroke" stroke="#f00" x1="10" y1="53.8" x2="59" y2="38"/>
<line vector-effect="non-scaling-stroke" stroke="#00b050" x1="10" y1="46.5" x2="59" y2="62"/>
</g>
<circle cx="860" cy="411" r="6" fill="#f00"/>
<line x1="749" y1="415" x2="1173" y2="517" stroke="#000" stroke-width="1.3" marker-start="url(#arr)" marker-end="url(#arr)"/>
<rect x="804" y="295" width="200" height="61" fill="#c6e0b4" stroke="#00b050" stroke-width="1.5"/>
<text x="904" y="322" class="a" font-size="21" fill="#595959" text-anchor="middle">y = 0,0032x - 5,8505</text>
<text x="904" y="349" class="a" font-size="21" fill="#595959" text-anchor="middle">R² = 0,8426</text>
<rect x="746" y="523" width="212" height="61" fill="#ffe699" stroke="#000"/>
<text x="852" y="550" class="a" font-size="21" fill="#595959" text-anchor="middle">y = -0,0032x + 6,8509</text>
<text x="852" y="577" class="a" font-size="21" fill="#595959" text-anchor="middle">R² = 0,8426</text>
<rect x="716" y="610" width="470" height="47" fill="#f8cbad" stroke="#000"/>
<line x1="764" y1="626" x2="782" y2="626" stroke="#4472c4" stroke-width="3"/><circle cx="773" cy="626" r="3" fill="#4472c4"/>
<text x="785" y="632" class="a" font-size="18" fill="#595959">С/Х+Гор+Маш+ЖКХ+Строй+ТранспСвязь</text>
<line x1="764" y1="647" x2="782" y2="647" stroke="#ed7d31" stroke-width="3"/>
<text x="785" y="653" class="a" font-size="18" fill="#595959">Торговля + Услуги</text>
</g>

<!-- CHART 2 -->
<g>
<rect x="1226" y="282" width="444" height="418" fill="#fff" stroke="#d9d9d9"/>
<path d="M1284 293H1667M1284 335H1667M1284 377H1667M1284 419H1667M1284 462H1667M1284 505H1667M1284 547H1667M1284 590H1667M1284 632H1667M1284 674H1667" class="gl"/>
<g class="ax" text-anchor="end"><text x="1276" y="299">45%</text><text x="1276" y="341">40%</text><text x="1276" y="383">35%</text><text x="1276" y="425">30%</text><text x="1276" y="468">25%</text><text x="1276" y="511">20%</text><text x="1276" y="553">15%</text><text x="1276" y="596">10%</text><text x="1276" y="638">5%</text><text x="1276" y="680">0%</text></g>
<g class="ax" font-size="16"><text transform="translate(1290,697) rotate(-90)">960</text><text transform="translate(1345,697) rotate(-90)">970</text><text transform="translate(1400,697) rotate(-90)">980</text><text transform="translate(1454,697) rotate(-90)">990</text><text transform="translate(1509,697) rotate(-90)">000</text><text transform="translate(1564,697) rotate(-90)">010</text><text transform="translate(1618,697) rotate(-90)">020</text></g>
<g transform="translate(1284,674) scale(5.47,-8.47)" fill="none" stroke-width="2.5">
<polyline vector-effect="non-scaling-stroke" stroke="#4472c4" points="10,37.5 11,37.2 12,37.5 13,38.3 14,37.6 15,37.2 16,37.5 17,37.3 18,37.5 19,36.8 20,37 21,36 22,35.5 23,34.5 24,33.8 25,33 26,32.5 27,31.5 28,30.5 29,30 30,29.5"/>
<polyline vector-effect="non-scaling-stroke" stroke="#f00" points="10,26 11,26.2 12,25.5 13,24.5 14,24.8 15,23.5 16,22 17,22.3 18,21.5 19,21.8 20,22 21,21.5 22,21 23,21.3 24,21 25,21 26,20.5 27,20.8 28,20.5 29,20.3 30,20.5 31,20 32,19.3 33,18.5 34,18 35,17.5 36,17 37,16.5 38,16.2 39,15.8 40,15.5 41,15.4 42,15.3 43,16.2 44,17 45,16.8 46,17 47,16.5 48,16 49,16.4 50,16.5 51,16.8 52,16.8 53,16.9 54,16.6 55,16.5 56,16.8 57,16.9 58,16.4 59,16.1"/>
<line vector-effect="non-scaling-stroke" stroke="#0000c0" x1="10" y1="24.9" x2="59" y2="14.6"/>
<polyline vector-effect="non-scaling-stroke" stroke="#aaa" points="10,14 13,14.1 16,14.2 19,14.4 22,14.6 25,15 28,15.2 30,15.1 33,15 36,14.8 40,14.5 44,14.3 48,14.2 52,14.2 56,14.2 59,14.2"/>
</g>
<circle cx="1406" cy="369" r="6" fill="#f00"/>
<rect x="1429" y="404" width="189" height="54" fill="#ffe699" stroke="#0000c0" stroke-width="1.5"/>
<text x="1523" y="427" class="a" font-size="20" fill="#595959" text-anchor="middle">y = -0,0021x + 4,3433</text>
<text x="1523" y="452" class="a" font-size="20" fill="#595959" text-anchor="middle">R² = 0,8963</text>
<rect x="1314" y="607" width="308" height="72" fill="#ffd966" stroke="#4472c4"/>
<line x1="1322" y1="618" x2="1338" y2="618" stroke="#4472c4" stroke-width="3"/><text x="1340" y="624" class="a" font-size="14" fill="#595959">Горно+ЗАВОДЫ+ЖКХ+Строй (ISIC C-F)</text>
<line x1="1322" y1="640" x2="1338" y2="640" stroke="#f00" stroke-width="3"/><text x="1340" y="646" class="a" font-size="14" fill="#595959">Производство (ISIC D)</text>
<line x1="1322" y1="662" x2="1338" y2="662" stroke="#aaa" stroke-width="3"/><text x="1340" y="668" class="a" font-size="14" fill="#595959">ТОРОВЛЯ+ОТЕЛИ+РЕСТОРАН (ISIC G-H)</text>
</g>

<!-- CHART 3 -->
<g>
<rect x="1673" y="281" width="418" height="425" fill="#fff" stroke="#d9d9d9"/>
<path d="M1719 291H2088M1719 337H2088M1719 381H2088M1719 426H2088M1719 470H2088M1719 515H2088M1719 560H2088M1719 604H2088M1719 649H2088" class="gl"/>
<g class="ax" text-anchor="end"><text x="1705" y="297">40%</text><text x="1705" y="343">35%</text><text x="1705" y="387">30%</text><text x="1705" y="432">25%</text><text x="1705" y="476">20%</text><text x="1705" y="521">15%</text><text x="1705" y="566">10%</text><text x="1705" y="610">5%</text><text x="1705" y="655">0%</text></g>
<g class="ax" font-size="16"><text transform="translate(1725,692) rotate(-90)">1960</text><text transform="translate(1778,692) rotate(-90)">1970</text><text transform="translate(1830,692) rotate(-90)">1980</text><text transform="translate(1883,692) rotate(-90)">1990</text><text transform="translate(1935,692) rotate(-90)">2000</text></g>
<g transform="translate(1719,649) scale(5.25,-8.9)" fill="none" stroke-width="2.5">
<polyline vector-effect="non-scaling-stroke" stroke="#4472c4" points="10,34 11,33.6 12,33.5 13,34.2 14,33.5 15,32.5 16,33 17,32.8 18,32.5 19,32 20,31 21,30 22,29.8 23,29.7 24,29.5 25,29.6 26,29.8 27,29.4 28,29 29,28.6 30,28.2 31,28.1 32,28 33,28.1 34,27.9 35,27.8 36,27.9 37,27.5 38,27.8 39,27.6 40,27.2 41,27.5 42,27.6 43,27.8 44,27.7 45,28 46,27.2 47,27.8 48,27.7 49,27.8 50,27.8 52,27.9 55,28 57,27.9 59,28"/>
<polyline vector-effect="non-scaling-stroke" stroke="#ed7d31" points="10,15.5 11,15.4 12,15.8 13,15.5 14,15.4 15,15.6 16,15.4 17,15.3 18,15.2 19,15 20,14.8 21,14.9 22,15 23,14.8 24,14.9 25,14.5 26,14.4 27,14.2 28,13.8 29,13.9 30,13.9 31,14 32,14 33,14.1 34,14.2 35,14.2 36,14.1 37,13.8 38,13.8 39,16.5 40,16.8 41,16.8 42,16.5 43,16 44,16.8 45,16.9 48,17 51,17.1 54,17.2 57,17.2 59,17.2"/>
<polyline vector-effect="non-scaling-stroke" stroke="#aaa" points="10,12 12,12.2 15,12.5 18,12.7 20,12.8 23,13 25,13.2 28,13.3 30,13.5 32,13.8 35,14.2 38,14.3 40,14.4 42,14.4 44,14.5 46,14 48,14.2 50,14.3 55,14.3 59,14.2"/>
</g>
<circle cx="1829" cy="382" r="5.5" fill="#f00"/>
<rect x="1743" y="575" width="258" height="65" fill="#f8cbad" stroke="#4472c4"/>
<line x1="1747" y1="588" x2="1763" y2="588" stroke="#4472c4" stroke-width="3"/><text x="1764" y="594" class="a" font-size="14" fill="#595959">Горно+ЗАВОДЫ+ЖКХ+Строй (ISIC C-F)</text>
<line x1="1747" y1="609" x2="1763" y2="609" stroke="#ed7d31" stroke-width="3"/><text x="1764" y="615" class="a" font-size="14" fill="#595959">Производство (ISIC D)</text>
<line x1="1747" y1="630" x2="1763" y2="630" stroke="#aaa" stroke-width="3"/><text x="1764" y="636" class="a" font-size="14" fill="#595959">ТОРОВЛЯ+ОТЕЛИ+РЕСТОРАН (</text>
</g>

<!-- GEO CHART -->
<g>
<rect x="1946" y="604" width="551" height="419" fill="#fff" stroke="#d9d9d9"/>
<path d="M2003 696H2494M2003 738H2494M2003 780H2494M2003 822H2494M2003 864H2494M2003 906H2494M2003 948H2494M2003 989H2494" class="gl"/>
<g class="ax" text-anchor="end"><text x="1988" y="702">70%</text><text x="1988" y="744">60%</text><text x="1988" y="786">50%</text><text x="1988" y="828">40%</text><text x="1988" y="870">30%</text><text x="1988" y="912">20%</text><text x="1988" y="954">10%</text><text x="1988" y="995">0%</text></g>
<g class="ax" font-size="16"><text transform="translate(2009,1016) rotate(-90)">60</text><text transform="translate(2079,1016) rotate(-90)">70</text><text transform="translate(2149,1016) rotate(-90)">80</text><text transform="translate(2219,1016) rotate(-90)">90</text><text transform="translate(2289,1016) rotate(-90)">00</text><text transform="translate(2359,1016) rotate(-90)">10</text><text transform="translate(2429,1016) rotate(-90)">20</text><text transform="translate(2499,1016) rotate(-90)">30</text></g>
<rect x="2040" y="615" width="392" height="85" fill="#ffe699" stroke="#000"/>
<text x="2236" y="642" class="s b" font-size="22" fill="#595959" text-anchor="middle">Геополитическая катострофа Мира</text>
<text x="2236" y="669" class="s b" font-size="22" fill="#595959" text-anchor="middle"><tspan fill="#f00">1981г</tspan>, Крах мировой экономики</text>
<text x="2236" y="696" class="s b" font-size="22" fill="#595959" text-anchor="middle"><tspan fill="#f00">15/09/2041-24/06/2043</tspan> гг.</text>
<g transform="translate(2003,989) scale(7,-4.2)" fill="none" stroke-width="2.5">
<polyline vector-effect="non-scaling-stroke" stroke="#4472c4" points="10,54.5 11,54 12,54.3 13,53.8 14,54.5 15,53.8 16,53 17,53.2 18,52.5 19,52.4 20,52 21,51 22,50.5 23,49.5 24,49 25,48 26,47.5 27,47 28,46.2 29,45 30,44.5 31,43.5 32,43.4 33,43 34,42.6 35,42 36,42 37,41.5 38,41 39,40.5 40,40.6 41,40 42,40.5 43,41 44,41.3 45,41.5 46,42 47,42.5 48,41 49,42 50,41.5 51,43 52,43 53,42.5 54,42.3 55,42 56,40.5 57,41 58,41.2 59,41"/>
<polyline vector-effect="non-scaling-stroke" stroke="#ed7d31" points="10,46 11,45.5 12,45.5 13,46.5 14,46 15,46.5 16,47 17,47.3 18,48 19,48.5 20,49 21,50 22,50.2 23,51 24,52 25,53 26,54 27,55 28,55.5 29,56 30,56.3 31,57 32,57.5 33,58 34,58.2 35,58.5 36,58.8 37,59 38,59.2 39,59.5 40,59.8 41,60.5 42,60 43,59.5 44,59 45,58.5 46,58.2 47,58 48,57.5 49,60 50,57.5 51,57.5 52,57.6 53,58 54,58.8 55,59.5 56,60 57,59.5 58,59.2 59,59.5"/>
<line vector-effect="non-scaling-stroke" stroke="#f00" x1="10" y1="53.8" x2="59" y2="38"/>
<line vector-effect="non-scaling-stroke" stroke="#00b050" x1="10" y1="46.5" x2="59" y2="62.5"/>
</g>
<circle cx="2150" cy="775" r="6" fill="#f00"/>
<rect x="2020" y="871" width="172" height="45" fill="#ffe699" stroke="#000"/>
<text x="2106" y="890" class="s" font-size="18" fill="#595959" text-anchor="middle">y = -0,0032x + 6,8509</text>
<text x="2106" y="911" class="s" font-size="18" fill="#595959" text-anchor="middle">R² = 0,8426</text>
<rect x="2288" y="877" width="161" height="45" fill="#c6e0b4" stroke="#00b050"/>
<text x="2368" y="896" class="s" font-size="18" fill="#595959" text-anchor="middle">y = 0,0032x - 5,8505</text>
<text x="2368" y="917" class="s" font-size="18" fill="#595959" text-anchor="middle">R² = 0,8426</text>
<rect x="2022" y="938" width="411" height="35" fill="#f8cbad" stroke="#000"/>
<line x1="2062" y1="951" x2="2076" y2="951" stroke="#4472c4" stroke-width="3"/><text x="2077" y="957" class="s" font-size="16" fill="#595959">С/Х+Гор+Маш+ЖКХ+Строй+ТранспСвязь</text>
<line x1="2062" y1="967" x2="2076" y2="967" stroke="#ed7d31" stroke-width="3"/><text x="2077" y="972" class="s" font-size="16" fill="#595959">Торговля + Услуги</text>
</g>

<!-- STEEL CHART 1 -->
<g>
<rect x="648" y="707" width="722" height="283" fill="#fff" stroke="#d9d9d9"/>
<rect x="702" y="710" width="366" height="30" fill="#ffe699"/>
<text x="706" y="733" class="a b" font-size="20" fill="#595959" textLength="358" lengthAdjust="spacingAndGlyphs">Производство стали МИР % от МИРА</text>
<path d="M721 745H1365M721 778H1365M721 812H1365M721 846H1365M721 879H1365M721 913H1365M721 947H1365" class="gl"/>
<path d="M747 745V947M774 745V947M800 745V947M826 745V947M853 745V947M879 745V947M905 745V947M932 745V947M958 745V947M984 745V947M1011 745V947M1037 745V947M1063 745V947M1090 745V947M1116 745V947M1142 745V947M1169 745V947M1195 745V947M1221 745V947M1248 745V947M1274 745V947M1300 745V947M1327 745V947M1353 745V947" class="gl"/>
<g class="ax" font-size="17" text-anchor="end"><text x="704" y="751">120,0%</text><text x="704" y="784">100,0%</text><text x="704" y="818">80,0%</text><text x="704" y="852">60,0%</text><text x="704" y="885">40,0%</text><text x="704" y="919">20,0%</text><text x="704" y="953">0,0%</text></g>
<line x1="721" y1="778" x2="1353" y2="778" stroke="#548235" stroke-width="3"/>
<line x1="721" y1="778" x2="1354" y2="778" stroke="#4472c4" stroke-width="8" stroke-linecap="round" stroke-dasharray="0 13.17"/>
<g class="ax" font-size="13" text-anchor="end">
<text transform="translate(726,955) rotate(-90)">1971</text><text transform="translate(752,955) rotate(-90)">1973</text><text transform="translate(779,955) rotate(-90)">1975</text><text transform="translate(805,955) rotate(-90)">1977</text><text transform="translate(831,955) rotate(-90)">1979</text><text transform="translate(858,955) rotate(-90)">1981</text><text transform="translate(884,955) rotate(-90)">1983</text><text transform="translate(910,955) rotate(-90)">1985</text><text transform="translate(937,955) rotate(-90)">1987</text><text transform="translate(963,955) rotate(-90)">1989</text><text transform="translate(989,955) rotate(-90)">1991</text><text transform="translate(1016,955) rotate(-90)">1993</text><text transform="translate(1042,955) rotate(-90)">1995</text><text transform="translate(1068,955) rotate(-90)">1997</text><text transform="translate(1095,955) rotate(-90)">1999</text><text transform="translate(1121,955) rotate(-90)">2001</text><text transform="translate(1147,955) rotate(-90)">2003</text><text transform="translate(1174,955) rotate(-90)">2005</text><text transform="translate(1200,955) rotate(-90)">2007</text><text transform="translate(1226,955) rotate(-90)">2009</text><text transform="translate(1253,955) rotate(-90)">2011</text><text transform="translate(1279,955) rotate(-90)">2013</text><text transform="translate(1305,955) rotate(-90)">2015</text><text transform="translate(1332,955) rotate(-90)">2017</text><text transform="translate(1358,955) rotate(-90)">2019</text>
</g>
<rect x="801" y="809" width="90" height="54" fill="#ffe699" stroke="#000"/>
<text x="846" y="832" class="a b" font-size="18" fill="#595959" text-anchor="middle">y = 1</text>
<text x="846" y="856" class="a b" font-size="18" fill="#595959" text-anchor="middle">R² = #N/A</text>
<rect x="1237" y="824" width="90" height="55" fill="#c6e0b4" stroke="#000"/>
<text x="1282" y="847" class="a b" font-size="18" fill="#595959" text-anchor="middle">y = 1</text>
<text x="1282" y="871" class="a b" font-size="18" fill="#595959" text-anchor="middle">R² = #N/A</text>
</g>

<!-- STEEL CHART 2 -->
<g>
<rect x="1381" y="708" width="559" height="277" fill="#fff" stroke="#d9d9d9"/>
<path d="M1435 745H1935M1435 765H1935M1435 784H1935M1435 804H1935M1435 823H1935M1435 843H1935M1435 863H1935M1435 882H1935M1435 902H1935M1435 921H1935M1435 941H1935" class="gl"/>
<path d="M1456 745V941M1476 745V941M1497 745V941M1517 745V941M1538 745V941M1558 745V941M1579 745V941M1600 745V941M1620 745V941M1641 745V941M1661 745V941M1682 745V941M1702 745V941M1723 745V941M1744 745V941M1764 745V941M1785 745V941M1805 745V941M1826 745V941M1846 745V941M1867 745V941M1888 745V941M1908 745V941M1929 745V941" class="gl"/>
<rect x="1438" y="718" width="358" height="30" fill="#ffe699"/>
<text x="1442" y="741" class="a b" font-size="20" fill="#595959">Производство стали  МИР. тыс. тонн</text>
<g class="ax" font-size="11" text-anchor="end"><text x="1428" y="749">2000000</text><text x="1428" y="769">1800000</text><text x="1428" y="788">1600000</text><text x="1428" y="808">1400000</text><text x="1428" y="827">1200000</text><text x="1428" y="847">1000000</text><text x="1428" y="867">800000</text><text x="1428" y="886">600000</text><text x="1428" y="906">400000</text><text x="1428" y="925">200000</text><text x="1428" y="945">0</text></g>
<line x1="1435" y1="905" x2="1929" y2="793" stroke="#f00" stroke-width="2.5"/>
<path d="M1435 892Q1720 868 1929 798" stroke="#548235" stroke-width="2.5" fill="none"/>
<polyline fill="none" stroke="#548235" stroke-width="2" marker-start="url(#dot)" marker-mid="url(#dot)" marker-end="url(#dot)" points="1435,884 1445,878 1456,872 1466,871 1476,877 1487,874 1497,874 1507,870 1517,867 1528,870 1538,872 1548,878 1559,876 1569,871 1579,870 1589,871 1600,869 1610,865 1620,864 1631,889 1641,891 1651,892 1661,892 1672,891 1682,890 1692,890 1703,889 1713,889 1723,889 1733,857 1744,857 1754,852 1764,844 1775,834 1785,826 1795,817 1805,808 1816,811 1826,819 1836,800 1847,789 1857,787 1867,778 1878,775 1888,782 1898,780 1908,774 1919,760 1929,756"/>
<g class="ax" font-size="13" text-anchor="end">
<text transform="translate(1440,950) rotate(-90)">1971</text><text transform="translate(1461,950) rotate(-90)">1973</text><text transform="translate(1481,950) rotate(-90)">1975</text><text transform="translate(1502,950) rotate(-90)">1977</text><text transform="translate(1522,950) rotate(-90)">1979</text><text transform="translate(1543,950) rotate(-90)">1981</text><text transform="translate(1563,950) rotate(-90)">1983</text><text transform="translate(1584,950) rotate(-90)">1985</text><text transform="translate(1605,950) rotate(-90)">1987</text><text transform="translate(1625,950) rotate(-90)">1989</text><text transform="translate(1646,950) rotate(-90)">1991</text><text transform="translate(1666,950) rotate(-90)">1993</text><text transform="translate(1687,950) rotate(-90)">1995</text><text transform="translate(1707,950) rotate(-90)">1997</text><text transform="translate(1728,950) rotate(-90)">1999</text><text transform="translate(1749,950) rotate(-90)">2001</text><text transform="translate(1769,950) rotate(-90)">2003</text><text transform="translate(1790,950) rotate(-90)">2005</text><text transform="translate(1810,950) rotate(-90)">2007</text><text transform="translate(1831,950) rotate(-90)">2009</text><text transform="translate(1851,950) rotate(-90)">2011</text><text transform="translate(1872,950) rotate(-90)">2013</text><text transform="translate(1893,950) rotate(-90)">2015</text><text transform="translate(1913,950) rotate(-90)">2017</text><text transform="translate(1934,950) rotate(-90)">2019</text>
</g>
<rect x="1459" y="792" width="167" height="55" fill="#ffe699" stroke="#000"/>
<text x="1542" y="816" class="a b" font-size="18" fill="#595959" text-anchor="middle">y = 23500x - 5E+07</text>
<text x="1542" y="840" class="a b" font-size="18" fill="#595959" text-anchor="middle">R² = 0,6542</text>
<rect x="1760" y="857" width="143" height="53" fill="#c6e0b4" stroke="#000"/>
<text x="1831" y="881" class="a b" font-size="18" fill="#595959" text-anchor="middle">y = 3E-141x<tspan font-size="11" dy="-7">44,392</tspan></text>
<text x="1831" y="904" class="a b" font-size="18" fill="#595959" text-anchor="middle">R² = 0,595</text>
</g>

<!-- BOTTOM MIDDLE TABLE -->
<g class="s">
<rect x="1030" y="1022" width="324" height="21" fill="#c6e0b4"/>
<rect x="1354" y="1022" width="36" height="21" fill="#e2efda"/><rect x="1390" y="1022" width="60" height="21" fill="#fff2cc"/>
<rect x="1450" y="1022" width="415" height="21" fill="#c6e0b4"/><rect x="1865" y="1022" width="32" height="21" fill="#92d050"/><rect x="1897" y="1022" width="31" height="21" fill="#c6e0b4"/>
<text x="1068" y="1039" font-size="14" text-anchor="middle">MX</text><text x="1144" y="1039" font-size="14" text-anchor="middle">Min</text><text x="1223" y="1039" font-size="14" text-anchor="middle">Max</text>
<text x="1310" y="1032" font-size="7" text-anchor="middle">46493952</text>
<g font-size="7" text-anchor="middle"><text x="1372" y="1032">100,0%</text><text x="1420" y="1032">эластичность</text><text x="1466" y="1032">0,0%</text><text x="1504" y="1032">0,0%</text><text x="1538" y="1032">#####</text><text x="1570" y="1032">#####</text><text x="1602" y="1032">#####</text><text x="1633" y="1032">#####</text><text x="1664" y="1032">50</text><text x="1695" y="1032">#####</text><text x="1757" y="1032">#####</text><text x="1788" y="1032">#####</text><text x="1818" y="1032">#####</text><text x="1849" y="1032">#####</text><text x="1881" y="1032">0</text><text x="1912" y="1032">-3,19</text></g>
<rect x="935" y="1043" width="95" height="169" fill="#ffd966"/>
<text x="1028" y="1066" font-size="20" class="b" fill="#f00" text-anchor="end">1,00</text>
<text x="1028" y="1124" font-size="20" class="b" fill="#f00" text-anchor="end">4,25</text>
<text x="1028" y="1179" font-size="20" class="b" fill="#f00" text-anchor="end">3,76</text>
<text x="1028" y="1207" font-size="20" class="b" fill="#f00" text-anchor="end">1,00</text>
<rect x="1030" y="1043" width="235" height="28" fill="#c6e0b4"/><rect x="1265" y="1043" width="89" height="28" fill="#d9e1f2"/>
<text x="1068" y="1065" font-size="19" text-anchor="middle">100,0%</text><text x="1144" y="1065" font-size="19" text-anchor="middle">100,0%</text><text x="1223" y="1065" font-size="19" text-anchor="middle">100,0%</text>
<text x="1267" y="1065" font-size="17" class="b" textLength="947" lengthAdjust="spacingAndGlyphs">НАБЛЮДАЕМ УСТОЙЧИВОЕ РАЗВИТИЕ ЭКОНОМИКИ. Производство стали МИР % от МИРА</text>
<rect x="1030" y="1071" width="152" height="29" fill="#c6e0b4"/><rect x="1182" y="1071" width="83" height="29" fill="#ffff00"/>
<rect x="1450" y="1071" width="415" height="29" fill="#c6e0b4"/><rect x="1865" y="1071" width="32" height="29" fill="#92d050"/><rect x="1897" y="1071" width="31" height="29" fill="#c6e0b4"/>
<text x="1068" y="1092" font-size="15" text-anchor="middle">1970</text><text x="1144" y="1092" font-size="15" text-anchor="middle">2019</text><text x="1223" y="1092" font-size="15" class="b" fill="#f00" text-anchor="middle">50 Лет</text>
<rect x="1182" y="1100" width="83" height="28" fill="#ffff00"/>
<text x="1068" y="1122" font-size="19" text-anchor="middle">354134</text><text x="1144" y="1122" font-size="19" text-anchor="middle">2E+06</text><text x="1223" y="1122" font-size="20" fill="#f00" text-anchor="middle">1E+06</text>
<text x="1267" y="1122" font-size="17" class="b" textLength="1132" lengthAdjust="spacingAndGlyphs">НАБЛЮДАЕМ НИЗКИЕ РИСКИ, ВЫСОКУЮ ЭФФЕКТИВНОСТЬ В НАТУРАЛЬНОМ ВЫРАЖЕНИИ, ТЫС.ТОНН</text>
<rect x="1030" y="1128" width="235" height="28" fill="#c6e0b4"/><rect x="1265" y="1128" width="89" height="56" fill="#ffff00"/>
<text x="1068" y="1148" font-size="14" text-anchor="middle">MX</text><text x="1144" y="1148" font-size="14" text-anchor="middle">Min</text><text x="1223" y="1148" font-size="14" text-anchor="middle">Max</text>
<text x="1310" y="1149" font-size="15" class="b" fill="#f00" text-anchor="middle">50 Лет</text>
<text x="1068" y="1178" font-size="19" text-anchor="middle">929879</text><text x="1144" y="1178" font-size="19" text-anchor="middle">498704</text><text x="1223" y="1178" font-size="19" text-anchor="middle">2E+06</text>
<text x="1310" y="1178" font-size="20" fill="#f00" text-anchor="middle">1E+06</text>
<text x="1356" y="1178" font-size="17" class="b" textLength="796" lengthAdjust="spacingAndGlyphs"><tspan fill="#00c">МОДЕЛЬ</tspan> <tspan fill="#f00">ЭФФЕКТИВНОСТЬ/</tspan><tspan fill="#00c">РИСКИ</tspan> В <tspan fill="#00c">НАТУРАЛЬНОМ</tspan> ВЫРАЖЕНИИ, <tspan fill="#00c">ТЫС.ТОНН</tspan></text>
<rect x="1390" y="1184" width="60" height="28" fill="#fff2cc"/><rect x="1450" y="1184" width="30" height="28" fill="#c6e0b4"/>
<rect x="1587" y="1184" width="278" height="28" fill="#c6e0b4"/><rect x="1865" y="1184" width="32" height="28" fill="#92d050"/>
<text x="1068" y="1205" font-size="16" text-anchor="middle">100,0%</text><text x="1144" y="1205" font-size="16" text-anchor="middle">100,0%</text><text x="1223" y="1205" font-size="16" text-anchor="middle">100,0%</text>
<g font-size="6" text-anchor="middle"><text x="1372" y="1193">100,0%</text><text x="1420" y="1193">Эластичность &gt;1</text><text x="1466" y="1193">0,0%</text><text x="1504" y="1193">0,0%</text><text x="1538" y="1196" font-size="8">0</text><text x="1570" y="1196" font-size="8">0</text><text x="1602" y="1193">100,000%</text><text x="1633" y="1193">100,000%</text><text x="1664" y="1195" font-size="8">50</text><text x="1695" y="1193">0,000%</text><text x="1726" y="1193">0,000%</text><text x="1757" y="1193">0,000%</text><text x="1788" y="1193">100,000%</text><text x="1818" y="1193">100,000%</text><text x="1849" y="1193">0,000%</text><text x="1881" y="1195" font-size="8">0</text><text x="1912" y="1195" font-size="8">-3,19</text></g>
<g stroke="#000" fill="none">
<path d="M935 1043H1354M935 1071H1354M935 1100H1354M935 1128H1450M935 1156H1450M935 1184H1928M935 1212H1928M935 1043V1212M1030 1043V1212M1106 1022V1071M1106 1128V1212M1182 1022V1212M1265 1022V1212M1354 1128V1212M1030 1022H1928V1043M1390 1184V1212M1450 1184V1212M1928 1184V1212" stroke-width="1"/>
<path d="M1354 1022V1043M1390 1022V1043M1450 1022V1043M1480 1022V1043M1520 1022V1043M1556 1022V1043M1587 1022V1043M1618 1022V1043M1649 1022V1043M1680 1022V1043M1711 1022V1043M1742 1022V1043M1773 1022V1043M1804 1022V1043M1834 1022V1043M1865 1022V1043M1897 1022V1043M1480 1184V1212M1520 1184V1212M1556 1184V1212M1587 1184V1212M1618 1184V1212M1649 1184V1212M1680 1184V1212M1711 1184V1212M1742 1184V1212M1773 1184V1212M1804 1184V1212M1834 1184V1212M1865 1184V1212M1897 1184V1212" stroke-width="0.7"/>
</g>
</g>

<!-- TABS -->
<rect x="0" y="1233" width="2557" height="28" fill="#f3f3f3"/>
<line x1="0" y1="1233" x2="2557" y2="1233" stroke="#c6c6c6"/>
<rect x="0" y="1260" width="2557" height="5" fill="#217346"/>
<text x="25" y="1254" class="a" font-size="14" fill="#bbb">◀</text><text x="52" y="1254" class="a" font-size="14" fill="#bbb">▶</text>
<g class="a" font-size="17" text-anchor="middle" lengthAdjust="spacingAndGlyphs">
<rect x="102" y="1234" width="65" height="26" fill="#c00000"/><text x="134" y="1253" fill="#fff" textLength="48" lengthAdjust="spacingAndGlyphs">NOTE</text>
<rect x="170" y="1234" width="88" height="26" fill="#c00000"/><text x="214" y="1253" fill="#fff" textLength="70" lengthAdjust="spacingAndGlyphs">ISO3166</text>
<rect x="263" y="1234" width="50" height="26" fill="#8eaadb"/><text x="288" y="1253" textLength="36" lengthAdjust="spacingAndGlyphs">Test</text>
<rect x="317" y="1234" width="78" height="26" fill="#f3f3f3"/><text x="356" y="1253" fill="#444" textLength="58" lengthAdjust="spacingAndGlyphs">TestSX</text>
<rect x="399" y="1234" width="72" height="26" fill="#ff0000"/><text x="435" y="1253" fill="#fff" textLength="56" lengthAdjust="spacingAndGlyphs">ГУЛАГ</text>
<rect x="475" y="1234" width="78" height="26" fill="#0070c0"/><text x="514" y="1253" fill="#fff" textLength="60" lengthAdjust="spacingAndGlyphs">WSteel</text>
<rect x="555" y="1233" width="56" height="28" fill="#fff"/><text x="583" y="1253" fill="#217346" font-weight="bold" textLength="42" lengthAdjust="spacingAndGlyphs">anl1</text>
<line x1="555" y1="1259" x2="611" y2="1259" stroke="#217346" stroke-width="3"/>
<rect x="614" y="1234" width="61" height="26" fill="#ffc000"/><text x="644" y="1253" textLength="46" lengthAdjust="spacingAndGlyphs">anl1r</text>
<rect x="679" y="1234" width="51" height="26" fill="#00b050"/><text x="704" y="1253" textLength="34" lengthAdjust="spacingAndGlyphs">bd1</text>
<rect x="735" y="1234" width="59" height="26" fill="#bf9000"/><text x="764" y="1253" textLength="42" lengthAdjust="spacingAndGlyphs">bd1r</text>
<rect x="799" y="1234" width="113" height="26" fill="#2f5597"/><text x="855" y="1253" fill="#fff" textLength="96" lengthAdjust="spacingAndGlyphs">bd3-GDPPC</text>
<rect x="917" y="1234" width="101" height="26" fill="#00b050"/><text x="967" y="1253" textLength="84" lengthAdjust="spacingAndGlyphs">bd2-XPop</text>
<rect x="1023" y="1234" width="107" height="26" fill="#00b0f0"/><text x="1076" y="1253" textLength="90" lengthAdjust="spacingAndGlyphs">population</text>
<rect x="1135" y="1234" width="56" height="26" fill="#f8cbad"/><text x="1163" y="1253" textLength="36" lengthAdjust="spacingAndGlyphs">ind1</text>
<rect x="1196" y="1234" width="40" height="26" fill="#ff0000"/><text x="1216" y="1253" fill="#fff" textLength="26" lengthAdjust="spacingAndGlyphs">R2</text>
<rect x="1240" y="1234" width="72" height="26" fill="#ff0000"/><text x="1276" y="1253" fill="#fff" textLength="56" lengthAdjust="spacingAndGlyphs">R2+b0</text>
<text x="1428" y="1253" fill="#444" textLength="192" lengthAdjust="spacingAndGlyphs">GDPcurrent-USD-regions</text>
<text x="1634" y="1253" fill="#444" textLength="158" lengthAdjust="spacingAndGlyphs">GDPPC-USD-regions</text>
<text x="1822" y="1253" fill="#444" textLength="152" lengthAdjust="spacingAndGlyphs">GDPcurrent-USD-all</text>
<text x="2000" y="1253" fill="#444" textLength="146" lengthAdjust="spacingAndGlyphs">GDPPCconstant-all</text>
</g>
<path d="M1540 1236V1258M1730 1236V1258M1914 1236V1258M2086 1236V1258" stroke="#c6c6c6"/>
<circle cx="2128" cy="1247" r="9" fill="none" stroke="#777"/><text x="2128" y="1253" class="a" font-size="16" fill="#777" text-anchor="middle">+</text>
<rect x="2401" y="1237" width="127" height="20" fill="#fff" stroke="#c6c6c6"/><rect x="2442" y="1238" width="42" height="18" fill="#fff" stroke="#aaa"/>
<text x="2404" y="1252" class="a" font-size="12" fill="#777">◀</text><text x="2517" y="1252" class="a" font-size="12" fill="#777">▶</text>
</svg>
</body></html>
